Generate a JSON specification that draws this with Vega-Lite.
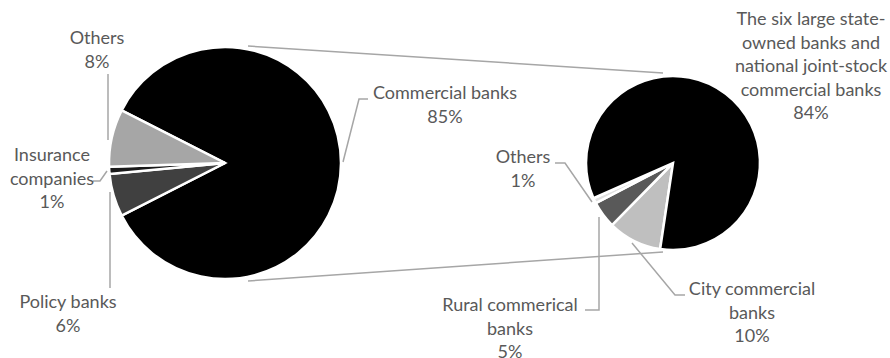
{
  "$schema": "https://vega.github.io/schema/vega-lite/v6.json",
  "width": 890,
  "height": 358,
  "autosize": {"type": "none"},
  "padding": 0,
  "background": "white",
  "config": {"view": {"stroke": null}},
  "datasets": {
    "banking": [
      {"segment": "Commercial banks", "share": 85, "order": 1},
      {"segment": "Policy banks", "share": 6, "order": 2},
      {"segment": "Insurance companies", "share": 1, "order": 3},
      {"segment": "Others", "share": 8, "order": 4}
    ],
    "commercial": [
      {"segment": "City commercial banks", "share": 10, "order": 1},
      {"segment": "Rural commerical banks", "share": 5, "order": 2},
      {"segment": "Others", "share": 1, "order": 3},
      {"segment": "The six large state-owned banks and national joint-stock commercial banks", "share": 84, "order": 4}
    ],
    "leaders": [
      {"id": "connector top", "i": 1, "x": 248, "y": 46},
      {"id": "connector top", "i": 2, "x": 663, "y": 73},
      {"id": "connector bottom", "i": 1, "x": 248, "y": 281},
      {"id": "connector bottom", "i": 2, "x": 663, "y": 252},
      {"id": "others left", "i": 1, "x": 108, "y": 74},
      {"id": "others left", "i": 2, "x": 108, "y": 140},
      {"id": "insurance", "i": 1, "x": 93, "y": 181},
      {"id": "insurance", "i": 2, "x": 100, "y": 181},
      {"id": "insurance", "i": 3, "x": 107, "y": 171},
      {"id": "policy", "i": 1, "x": 110, "y": 192},
      {"id": "policy", "i": 2, "x": 110, "y": 288},
      {"id": "commercial", "i": 1, "x": 343, "y": 162},
      {"id": "commercial", "i": 2, "x": 359, "y": 99},
      {"id": "commercial", "i": 3, "x": 368, "y": 99},
      {"id": "others right", "i": 1, "x": 555, "y": 163},
      {"id": "others right", "i": 2, "x": 565, "y": 163},
      {"id": "others right", "i": 3, "x": 592, "y": 202},
      {"id": "rural", "i": 1, "x": 585, "y": 310},
      {"id": "rural", "i": 2, "x": 599, "y": 310},
      {"id": "rural", "i": 3, "x": 599, "y": 217},
      {"id": "city", "i": 1, "x": 632, "y": 243},
      {"id": "city", "i": 2, "x": 675, "y": 295},
      {"id": "city", "i": 3, "x": 685, "y": 295}
    ],
    "labels": [
      {"text": "Others\n8%", "x": 97, "y": 39},
      {"text": "Insurance\ncompanies\n1%", "x": 52, "y": 156},
      {"text": "Policy banks\n6%", "x": 68, "y": 303},
      {"text": "Commercial banks\n85%", "x": 445, "y": 94},
      {"text": "The six large state-\nowned banks and\nnational joint-stock\ncommercial banks\n84%", "x": 811, "y": 20},
      {"text": "Others\n1%", "x": 523, "y": 158},
      {"text": "Rural commerical\nbanks\n5%", "x": 510, "y": 306},
      {"text": "City commercial\nbanks\n10%", "x": 752, "y": 290}
    ]
  },
  "layer": [
    {
      "data": {"name": "leaders"},
      "mark": {"type": "line", "color": "#a6a6a6", "strokeWidth": 1.5},
      "encoding": {
        "x": {"field": "x", "type": "quantitative", "scale": {"domain": [0, 890], "nice": false, "zero": false}, "axis": null},
        "y": {"field": "y", "type": "quantitative", "scale": {"domain": [0, 358], "nice": false, "zero": false, "reverse": true}, "axis": null},
        "detail": {"field": "id"},
        "order": {"field": "i"}
      }
    },
    {
      "data": {"name": "banking"},
      "mark": {"type": "arc", "radius": 116, "stroke": "white", "strokeWidth": 2.5},
      "encoding": {
        "x": {"datum": 225, "type": "quantitative"},
        "y": {"datum": 163, "type": "quantitative"},
        "theta": {"field": "share", "type": "quantitative", "stack": true, "scale": {"domain": [0, 100], "range": [5.1836, 11.4668]}},
        "order": {"field": "order"},
        "color": {"field": "segment", "type": "nominal", "legend": null,
          "scale": {"domain": ["Commercial banks", "Policy banks", "Insurance companies", "Others"], "range": ["#000000", "#404040", "#1a1a1a", "#a6a6a6"]}}
      }
    },
    {
      "data": {"name": "commercial"},
      "mark": {"type": "arc", "radius": 87, "stroke": "white", "strokeWidth": 2.5},
      "encoding": {
        "x": {"datum": 673, "type": "quantitative"},
        "y": {"datum": 163, "type": "quantitative"},
        "theta": {"field": "share", "type": "quantitative", "stack": true, "scale": {"domain": [0, 100], "range": [3.29, 9.5732]}},
        "order": {"field": "order"},
        "color": {"field": "segment", "type": "nominal", "legend": null,
          "scale": {"domain": ["City commercial banks", "Rural commerical banks", "Others", "The six large state-owned banks and national joint-stock commercial banks"], "range": ["#bfbfbf", "#595959", "#e0e0e0", "#000000"]}}
      }
    },
    {
      "data": {"name": "labels"},
      "mark": {"type": "text", "font": "Lato", "fontSize": 18, "color": "#595959", "lineBreak": "\n", "lineHeight": 23.5, "align": "center", "baseline": "middle"},
      "encoding": {
        "x": {"field": "x", "type": "quantitative"},
        "y": {"field": "y", "type": "quantitative"},
        "text": {"field": "text"}
      }
    }
  ],
  "resolve": {"scale": {"color": "independent", "theta": "independent"}}
}
